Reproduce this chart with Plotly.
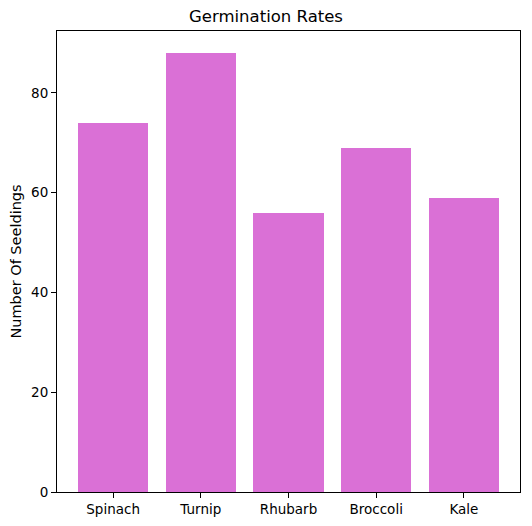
import plotly.graph_objects as go

categories = ["Spinach", "Turnip", "Rhubarb", "Broccoli", "Kale"]
seedlings = [74, 88, 56, 69, 59]
y_ticks = [0, 20, 40, 60, 80]

fig = go.Figure(go.Bar(
    x=list(range(len(categories))), y=seedlings, width=0.8,
    marker=dict(color="#DA70D6", line=dict(width=0)),
))
fig.update_layout(
    width=532, height=526,
    margin=dict(l=57, r=12, t=31, b=34, autoexpand=False),
    paper_bgcolor="white", plot_bgcolor="white",
    font=dict(family="DejaVu Sans", size=13.5, color="black"),
    title=dict(text="Germination Rates", x=0.5, xanchor="center",
               y=1 - 22/526, yanchor="bottom", font=dict(size=16.5), pad=dict(b=0)),
    showlegend=False,
    bargap=0,
)
fig.update_xaxes(
    range=[-0.64, 4.64], tickmode="array",
    tickvals=list(range(len(categories))), ticktext=categories,
    showline=True, linecolor="black", linewidth=1, mirror=True,
    ticks="outside", ticklen=5, tickcolor="black", showgrid=False, zeroline=False,
)
fig.update_yaxes(
    range=[0, 92.4], tickmode="array", tickvals=y_ticks,
    title=dict(text="Number Of Seeldings", standoff=6, font=dict(size=14.5)),
    showline=True, linecolor="black", linewidth=1, mirror=True,
    ticks="outside", ticklen=5, tickcolor="black", showgrid=False, zeroline=False,
)
fig.write_html("out.html", config={"displayModeBar": False},
               post_script="document.body.style.margin='0';")
